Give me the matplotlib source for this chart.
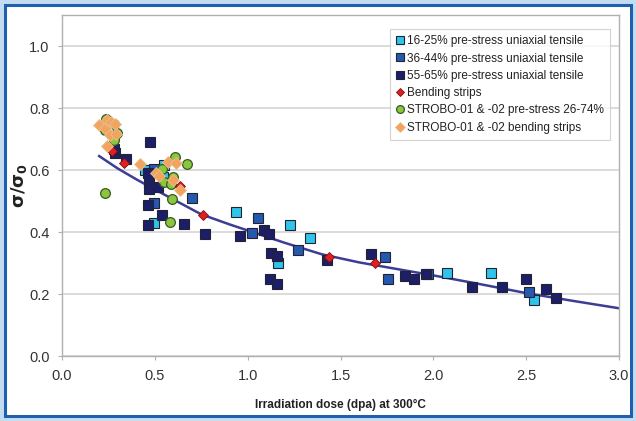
import numpy as np
import matplotlib.pyplot as plt
from matplotlib.patches import Rectangle

plt.rcParams['font.family'] = ['Liberation Sans', 'DejaVu Sans']

# 16-25% pre-stress uniaxial tensile
x_16 = [0.445, 0.547, 0.544, 0.493, 0.939, 1.227, 1.338, 1.166, 2.076, 2.308, 2.544]
y_16 = [0.599, 0.616, 0.576, 0.430, 0.463, 0.423, 0.381, 0.299, 0.268, 0.268, 0.180]

# 36-44% pre-stress uniaxial tensile
x_36 = [0.498, 0.493, 0.699, 1.026, 1.057, 1.271, 1.738, 1.757, 1.972, 2.517]
y_36 = [0.603, 0.492, 0.511, 0.397, 0.444, 0.342, 0.320, 0.250, 0.264, 0.205]

# 55-65% pre-stress uniaxial tensile
x_55 = [0.472, 0.288, 0.278, 0.345, 0.463, 0.466, 0.466, 0.515, 0.465, 0.465, 0.541,
        0.657, 0.771, 0.958, 1.090, 1.116, 1.127, 1.159, 1.118, 1.159, 1.428, 1.666,
        1.847, 1.897, 1.960, 2.207, 2.369, 2.498, 2.607, 2.659]
y_55 = [0.691, 0.655, 0.667, 0.634, 0.589, 0.557, 0.540, 0.546, 0.487, 0.422, 0.456,
        0.426, 0.395, 0.386, 0.406, 0.395, 0.333, 0.322, 0.249, 0.232, 0.309, 0.329,
        0.258, 0.250, 0.264, 0.223, 0.221, 0.247, 0.215, 0.188]

# Bending strips
x_bend = [0.270, 0.332, 0.635, 0.760, 1.437, 1.688]
y_bend = [0.660, 0.621, 0.550, 0.454, 0.318, 0.300]

# STROBO-01 & -02 pre-stress 26-74%
x_sp = [0.237, 0.229, 0.278, 0.287, 0.278, 0.296, 0.231, 0.606, 0.673, 0.538,
        0.547, 0.588, 0.597, 0.595, 0.579]
y_sp = [0.766, 0.728, 0.750, 0.712, 0.696, 0.718, 0.526, 0.642, 0.618, 0.602,
        0.562, 0.554, 0.578, 0.506, 0.433]

# STROBO-01 & -02 bending strips
x_sb = [0.197, 0.231, 0.245, 0.266, 0.286, 0.258, 0.240, 0.290, 0.421, 0.508,
        0.525, 0.571, 0.615, 0.597, 0.633]
y_sb = [0.744, 0.734, 0.760, 0.755, 0.748, 0.712, 0.679, 0.715, 0.618, 0.589,
        0.580, 0.626, 0.621, 0.569, 0.537]

# trend line read along its length
x_fit = [0.2, 0.3, 0.4, 0.5, 0.6, 0.75, 0.9, 1.0, 1.2, 1.4, 1.6, 1.8, 2.0, 2.25, 2.5, 2.75, 3.0]
y_fit = [0.645, 0.605, 0.570, 0.537, 0.505, 0.457, 0.425, 0.405, 0.365, 0.328, 0.302,
         0.281, 0.260, 0.232, 0.203, 0.178, 0.154]

fig = plt.figure(figsize=(6.36, 4.21), dpi=100)
fig.patch.set_facecolor('#c4dcf2')
# white panel with blue frame behind the chart
fig.add_artist(Rectangle((5 / 636, 5 / 421), 626 / 636, 411 / 421, transform=fig.transFigure,
                         facecolor='white', edgecolor='#1f5fae', linewidth=2.2, zorder=-10))

ax = fig.add_axes([62 / 636, 1 - 356 / 421, 557 / 636, 341 / 421])
ax.set_facecolor('none')
ax.set_xlim(0, 3.0)
ax.set_ylim(0, 1.1)
ax.set_xticks(np.arange(0, 3.01, 0.5))
ax.set_yticks(np.arange(0, 1.01, 0.2))
ax.set_xticklabels([f'{v:.1f}' for v in np.arange(0, 3.01, 0.5)])
ax.set_yticklabels([f'{v:.1f}' for v in np.arange(0, 1.01, 0.2)])
ax.grid(axis='y', color='#dcdcdc', linewidth=1.4)
ax.set_axisbelow(True)
for s in ax.spines.values():
    s.set_color('#b0b0b0')
    s.set_linewidth(1.0)
ax.tick_params(length=3, color='#b0b0b0', labelsize=10.5, labelcolor='#333333', pad=6)

ax.plot(x_fit, y_fit, color='#3d3d96', linewidth=1.8, zorder=2)

sq = dict(linestyle='none', marker='s', markersize=6.5, markeredgecolor='#222233',
          markeredgewidth=0.8, zorder=3)
ax.plot(x_16, y_16, markerfacecolor='#2fc4ea', label='16-25% pre-stress uniaxial tensile', **sq)
ax.plot(x_36, y_36, markerfacecolor='#2559b0', label='36-44% pre-stress uniaxial tensile', **sq)
ax.plot(x_55, y_55, markerfacecolor='#1c1f68', label='55-65% pre-stress uniaxial tensile', **sq)
ax.plot(x_bend, y_bend, linestyle='none', marker='D', markersize=4.8, markerfacecolor='#e02020',
        markeredgecolor='#7a1010', markeredgewidth=0.6, label='Bending strips', zorder=5)
ax.plot(x_sp, y_sp, linestyle='none', marker='o', markersize=7, markerfacecolor='#8ac640',
        markeredgecolor='#3a5a20', markeredgewidth=0.9, label='STROBO-01 & -02 pre-stress 26-74%', zorder=4)
ax.plot(x_sb, y_sb, linestyle='none', marker='D', markersize=5.8, markerfacecolor='#f2a35e',
        markeredgecolor='#e8c090', markeredgewidth=0.6, label='STROBO-01 & -02 bending strips', zorder=6)

leg = ax.legend(loc='upper right', bbox_to_anchor=(0.983, 0.958), fontsize=8.5, frameon=True,
                fancybox=False, edgecolor='#c8c8c8', handlelength=0.6, handletextpad=0.3,
                labelspacing=0.45, borderpad=0.5, markerscale=0.8, borderaxespad=0)
leg.get_frame().set_linewidth(0.8)
for t in leg.get_texts():
    t.set_color('#222222')

ax.set_xlabel('Irradiation dose (dpa) at 300°C', fontsize=8.5, fontweight='bold', color='#222222')
ax.xaxis.set_label_coords(0.5, -0.125)
ax.set_ylabel(r'$\mathbf{\sigma/\sigma_0}$', fontsize=13, color='#222222')
ax.yaxis.set_label_coords(-0.06, 0.5)

fig.savefig('out.png', dpi=100)
